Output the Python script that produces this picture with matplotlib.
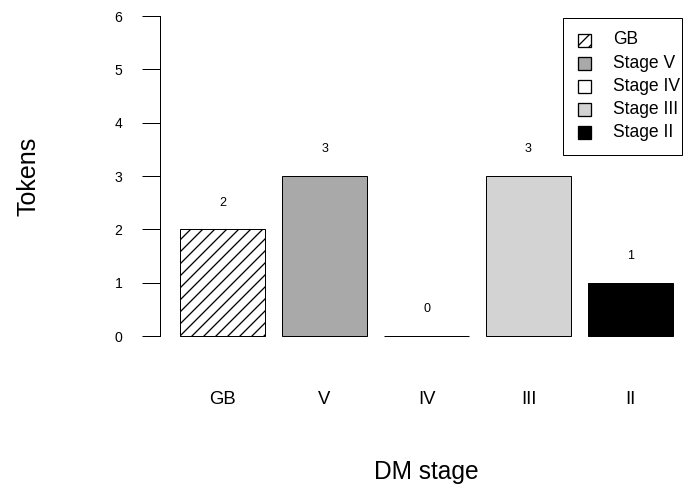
#!/usr/bin/env python3
"""
Bar chart of tokens per DM stage (R base-graphics look)
"""

import numpy as np
import matplotlib
matplotlib.use('Agg')
import matplotlib.pyplot as plt
from matplotlib.patches import Rectangle

# Data
stages = ['GB', 'V', 'IV', 'III', 'II']
tokens = [2, 3, 0, 3, 1]
legend_labels = ['GB', 'Stage V', 'Stage IV', 'Stage III', 'Stage II']
bar_colors = ['white', '#A9A9A9', 'white', '#D3D3D3', 'black']
bar_hatches = ['//', None, None, None, None]
yticks = [0, 1, 2, 3, 4, 5, 6]

plt.rcParams['font.family'] = ['Liberation Sans', 'DejaVu Sans']
plt.rcParams['hatch.linewidth'] = 1.3

# 72 dpi so that points == pixels (like R's png device)
W, H = 684, 487
fig = plt.figure(figsize=(W / 72, H / 72), dpi=72)


def fx(px):
    return px / W


def fy(py):
    # pixel from top -> figure fraction
    return 1 - py / H


# plot region in pixels (left, top, right, bottom)
left, top, right, bottom = 160.3, 3.2, 692.7, 348.8
ax = fig.add_axes([fx(left), fy(bottom), (right - left) / W, (bottom - top) / H])

# R barplot: width 1, space 0.2
centers = np.arange(len(stages)) * 1.2 + 0.7
bars = ax.bar(centers, tokens, width=1.0, color=bar_colors,
              edgecolor='black', linewidth=1.0)
for b, h in zip(bars, bar_hatches):
    if h:
        b.set_hatch(h)

# value labels above bars
for x, v in zip(centers, tokens):
    ax.text(x, v + 0.5, str(v), ha='center', va='center', fontsize=12.5)

ax.set_xlim(-0.032, 6.232)
ax.set_ylim(-0.24, 6.24)

# axes styling
for s in ['top', 'right', 'bottom']:
    ax.spines[s].set_visible(False)
ax.spines['left'].set_bounds(0, 6)
ax.spines['left'].set_linewidth(1.0)

ax.set_yticks(yticks)
ax.set_yticklabels([str(t) for t in yticks])
ax.tick_params(axis='y', length=18, width=1.0, pad=20, labelsize=14)

ax.set_xticks(centers)
ax.set_xticklabels(stages)
ax.tick_params(axis='x', length=0, pad=42.5, labelsize=18.5)

ax.set_ylabel('Tokens', fontsize=25, va='center')
ax.yaxis.set_label_coords((28 - left) / (right - left), 0.5)
ax.set_xlabel('DM stage', fontsize=24.5, va='center')
ax.xaxis.set_label_coords(0.5, (bottom - 472) / (bottom - top))

# legend drawn by hand, R style (text may touch the frame)
box_l, box_t, box_r, box_b = 562.7, 17.7, 681.7, 155.0
fig.patches.append(Rectangle((fx(box_l), fy(box_b)), (box_r - box_l) / W,
                             (box_b - box_t) / H, transform=fig.transFigure,
                             facecolor='white', edgecolor='black', linewidth=1.0))
row0, row_step, sq = 40.0, 23.1, 13.0
for i, (lab, c, h) in enumerate(zip(legend_labels, bar_colors, bar_hatches)):
    yc = row0 + i * row_step
    fig.patches.append(Rectangle((fx(578.3), fy(yc + sq / 2)), sq / W, sq / H,
                                 transform=fig.transFigure, facecolor=c,
                                 edgecolor='black', linewidth=1.3, hatch=h))
    fig.text(fx(613.3), fy(yc), lab, ha='left', va='center', fontsize=17.5)

fig.savefig('out.png', dpi=72)
